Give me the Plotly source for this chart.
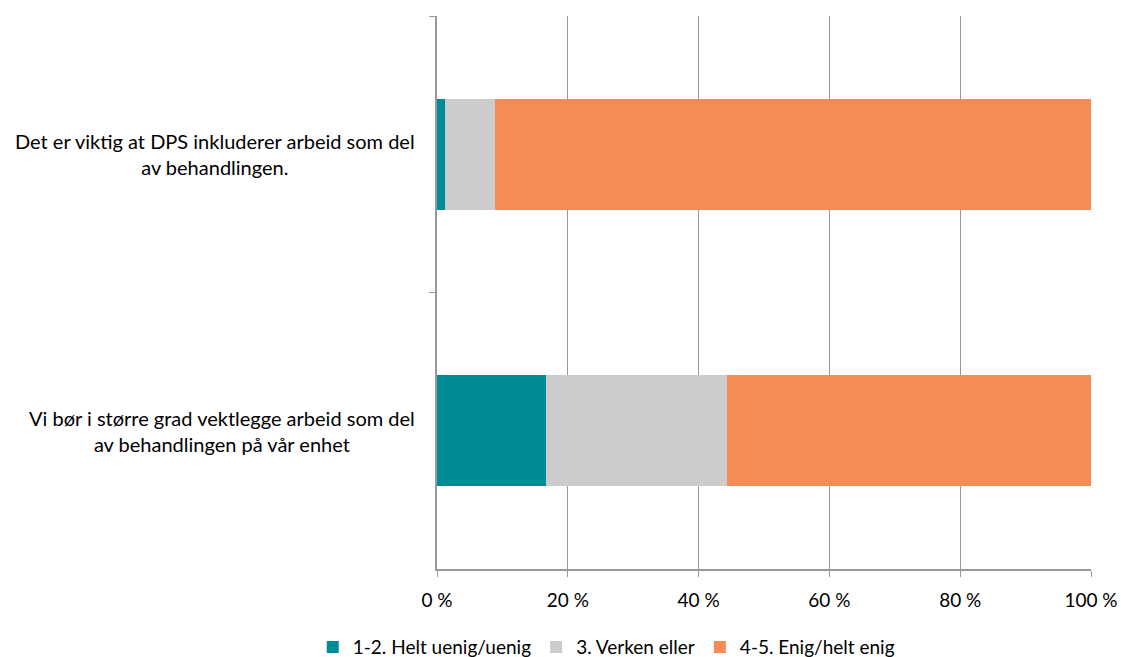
import plotly.graph_objects as go

categories = [
    "Det er viktig at DPS inkluderer arbeid som del<br>av behandlingen.",
    "Vi bør i større grad vektlegge arbeid som del<br>av behandlingen på vår enhet",
]
series_names = ["1-2. Helt uenig/uenig", "3. Verken eller", "4-5. Enig/helt enig"]
uenig = [1.2, 16.6]
verken = [7.7, 27.7]
enig = [91.1, 55.7]
colors = ["#008C95", "#CCCCCC", "#F68B57"]
tick_vals = [0, 20, 40, 60, 80, 100]
tick_text = ["0 %", "20 %", "40 %", "60 %", "80 %", "100 %"]

fig = go.Figure()
for name, vals, col in zip(series_names, [uenig, verken, enig], colors):
    fig.add_trace(go.Bar(
        y=categories, x=vals, name=name, orientation="h",
        marker=dict(color=col, line=dict(width=0)),
        width=0.4,
    ))

# category labels as centered multi-line text next to the axis
for cat in categories:
    fig.add_annotation(
        x=0, xref="paper", y=cat, yref="y", text=cat,
        xanchor="right", yanchor="middle", align="center",
        xshift=-20, showarrow=False,
        font=dict(family="Lato, Open Sans, sans-serif", size=20, color="#000000"),
    )

fig.update_layout(
    barmode="stack",
    width=1121, height=657,
    margin=dict(l=437, r=30, t=16, b=88, autoexpand=False),
    plot_bgcolor="white", paper_bgcolor="white",
    font=dict(family="Lato, Open Sans, sans-serif", size=20, color="#000000"),
    legend=dict(orientation="h", x=-0.19, xanchor="left", y=-0.107, yanchor="top",
                font=dict(size=19), traceorder="normal"),
    showlegend=True,
)
fig.update_xaxes(
    range=[0, 100], tickvals=tick_vals, ticktext=tick_text,
    showgrid=True, gridcolor="#999999", gridwidth=1,
    showline=True, linecolor="#999999", linewidth=1.5,
    ticks="outside", ticklen=6, tickcolor="#999999",
    zeroline=False, tickfont=dict(size=19), ticklabelstandoff=7,
)
fig.update_yaxes(
    categoryorder="array", categoryarray=categories, autorange="reversed",
    showline=True, linecolor="#999999", linewidth=2,
    ticks="outside", ticklen=6, tickcolor="#999999", tickson="boundaries",
    showgrid=False, showticklabels=False,
)

fig.write_html(
    "out.html",
    config={"displayModeBar": False},
    post_script="document.body.style.margin='0';document.body.style.overflow='hidden';",
)
